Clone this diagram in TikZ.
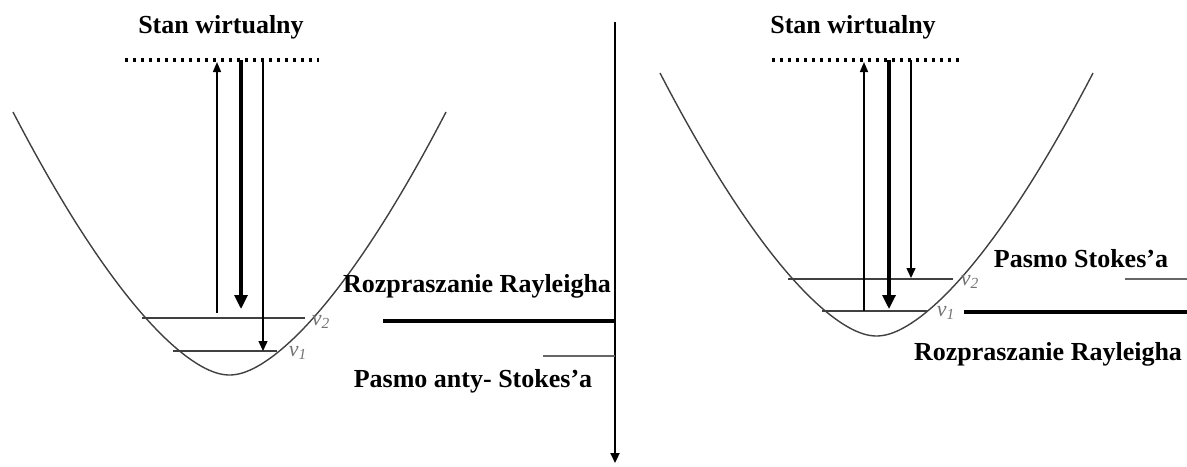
\documentclass[tikz,border=0pt]{standalone}
\usepackage{fontspec}
\setmainfont{Liberation Serif}
\usetikzlibrary{arrows.meta,positioning,calc}

\begin{document}
\begin{tikzpicture}[x=0.5pt, y=-0.5pt,
    lbl/.style={font=\fontsize{13}{15}\selectfont\bfseries, anchor=base, inner sep=0pt},
    nulbl/.style={font=\fontsize{11}{13}\selectfont\itshape, text=black!55, inner sep=0pt},
    well/.style={black!75, line width=0.7pt},
    level/.style={black!75, line width=0.7pt},
    virt/.style={line width=1.6pt, dash pattern=on 1.5pt off 2.5pt},
    uparr/.style={-{Triangle[length=5pt, width=4pt]}, line width=0.8pt},
    thickarr/.style={-{Triangle[length=7pt, width=6.5pt]}, line width=1.6pt},
    thinarr/.style={-{Triangle[length=5pt, width=4.5pt]}, line width=0.7pt},
    band/.style={line width=2pt},
    weak/.style={black!60, line width=0.8pt},
]
\useasboundingbox (0,0) rectangle (1187,466);

% Left well (anti-Stokes)
\node[lbl] (stanL) at (221,33) {Stan wirtualny};
\coordinate (virtLa) at (125,60);
\coordinate (virtLb) at (319,60);
\draw[virt] (virtLa) -- (virtLb);
\draw[well] plot[domain=-216.5:216.5, samples=120] ({229.5+\x}, {375-2.2101*(((\x/10)*(\x/10)+4)^0.78-2.948)});
\coordinate (v2La) at (142,318);
\coordinate (v2Lb) at (305,318);
\coordinate (v1La) at (173,351);
\coordinate (v1Lb) at (277,351);
\draw[level] (v2La) -- (v2Lb);
\draw[level] (v1La) -- (v1Lb);
\node[nulbl] (nu2L) at (321,322) {ν\textsubscript{2}};
\node[nulbl] (nu1L) at (298,353) {ν\textsubscript{1}};

% Left arrows
\coordinate (upLs) at (217,313);
\coordinate (upLe) at (217,62);
\coordinate (rayLs) at (241,60);
\coordinate (rayLe) at (241,309);
\coordinate (asLs) at (263,60);
\coordinate (asLe) at (263,351);
\draw[uparr] (upLs) -- (upLe);
\draw[thickarr] (rayLs) -- (rayLe);
\draw[thinarr] (asLs) -- (asLe);

% Middle axis with bands
\coordinate (axisTop) at (615,22);
\coordinate (axisBot) at (615,463);
\draw[-{Triangle[length=5pt, width=4.5pt]}, line width=1.1pt] (axisTop) -- (axisBot);
\coordinate (rayBandL) at (383,321);
\draw[band] (rayBandL) -- (rayBandL -| axisTop);
\coordinate (asBand) at (543,356);
\draw[weak] (asBand) -- (asBand -| axisTop);
\node[lbl] (rayL) at (477,292) {Rozpraszanie Rayleigha};
\node[lbl] (asL) at (473,387) {Pasmo anty- Stokes’a};

% Right well (Stokes)
\node[lbl] (stanR) at (853,33) {Stan wirtualny};
\coordinate (virtRa) at (772,60);
\coordinate (virtRb) at (960,60);
\draw[virt] (virtRa) -- (virtRb);
\draw[well] plot[domain=-216.5:216.5, samples=120] ({876.5+\x}, {336-2.2101*(((\x/10)*(\x/10)+4)^0.78-2.948)});
\coordinate (v2Ra) at (788,279);
\coordinate (v2Rb) at (953,279);
\coordinate (v1Ra) at (822,311);
\coordinate (v1Rb) at (927,311);
\draw[level] (v2Ra) -- (v2Rb);
\draw[level] (v1Ra) -- (v1Rb);
\node[nulbl] (nu2R) at (970,282) {ν\textsubscript{2}};
\node[nulbl] (nu1R) at (946,313) {ν\textsubscript{1}};

% Right arrows
\coordinate (upRs) at (864,311);
\coordinate (upRe) at (864,62);
\coordinate (rayRs) at (889,60);
\coordinate (rayRe) at (889,309);
\coordinate (stRs) at (911,60);
\coordinate (stRe) at (911,278);
\draw[uparr] (upRs) -- (upRe);
\draw[thickarr] (rayRs) -- (rayRe);
\draw[thinarr] (stRs) -- (stRe);

% Right bands
\coordinate (stBand) at (1125,279);
\draw[weak] (stBand) -- (1187,279);
\coordinate (rayBandR) at (964,312);
\draw[band] (rayBandR) -- (1187,312);
\node[lbl] (stR) at (1081,267) {Pasmo Stokes’a};
\node[lbl] (rayR) at (1048,360) {Rozpraszanie Rayleigha};

\end{tikzpicture}
\end{document}
